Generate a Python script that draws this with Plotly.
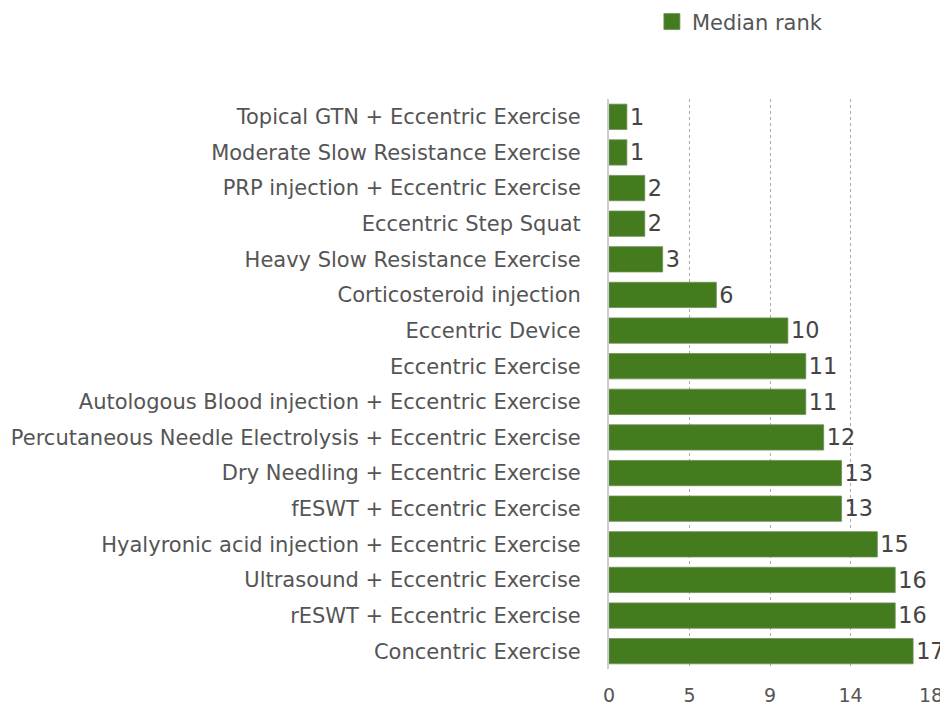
import plotly.graph_objects as go

categories = [
    "Topical GTN + Eccentric Exercise",
    "Moderate Slow Resistance Exercise",
    "PRP injection + Eccentric Exercise",
    "Eccentric Step Squat",
    "Heavy Slow Resistance Exercise",
    "Corticosteroid injection",
    "Eccentric Device",
    "Eccentric Exercise",
    "Autologous Blood injection + Eccentric Exercise",
    "Percutaneous Needle Electrolysis + Eccentric Exercise",
    "Dry Needling + Eccentric Exercise",
    "fESWT + Eccentric Exercise",
    "Hyalyronic acid injection + Eccentric Exercise",
    "Ultrasound + Eccentric Exercise",
    "rESWT + Eccentric Exercise",
    "Concentric Exercise",
]
median_rank = [1, 1, 2, 2, 3, 6, 10, 11, 11, 12, 13, 13, 15, 16, 16, 17]
tick_vals = [0, 4.5, 9, 13.5, 18]
tick_text = ["0", "5", "9", "14", "18"]
series_name = "Median rank"

FONT = "DejaVu Sans"
GREEN = "#437b1e"

fig = go.Figure()
fig.add_trace(go.Bar(
    y=categories,
    x=median_rank,
    orientation="h",
    name=series_name,
    marker=dict(color=GREEN, line=dict(color="#6e8f57", width=0.8)),
    text=[str(v) for v in median_rank],
    textposition="outside",
    textfont=dict(family=FONT, size=23, color="#444444"),
    cliponaxis=False,
    showlegend=False,
))
# legend entry (larger square swatch)
fig.add_trace(go.Scatter(
    x=[None], y=[None],
    mode="markers",
    name=series_name,
    marker=dict(symbol="square", size=20, color=GREEN,
                line=dict(color="#6e8f57", width=0.8)),
    showlegend=True,
    hoverinfo="skip",
))

fig.update_layout(
    width=940,
    height=697,
    margin=dict(l=601, r=17, t=91, b=36),
    paper_bgcolor="white",
    plot_bgcolor="white",
    bargap=0.29,
    font=dict(family=FONT, color="#555555"),
    showlegend=True,
    legend=dict(
        orientation="h",
        x=0.685, xref="container", xanchor="left",
        y=0.98, yref="container", yanchor="middle",
        font=dict(family=FONT, size=21, color="#555555"),
        bgcolor="rgba(0,0,0,0)",
    ),
    xaxis=dict(
        range=[0, 18],
        tickmode="array",
        tickvals=tick_vals,
        ticktext=tick_text,
        tickfont=dict(family=FONT, size=19, color="#555555"),
        ticklabelstandoff=13,
        showgrid=True,
        gridcolor="#aaaaaa",
        griddash="dot",
        gridwidth=1.2,
        zeroline=False,
        showline=False,
        ticks="",
        automargin=False,
    ),
    yaxis=dict(
        autorange="reversed",
        tickfont=dict(family=FONT, size=21, color="#555555"),
        showline=True,
        linecolor="#cccccc",
        linewidth=2,
        ticks="",
        ticklabelstandoff=22,
        showgrid=False,
        automargin=False,
    ),
)

fig.write_html("out.html")
